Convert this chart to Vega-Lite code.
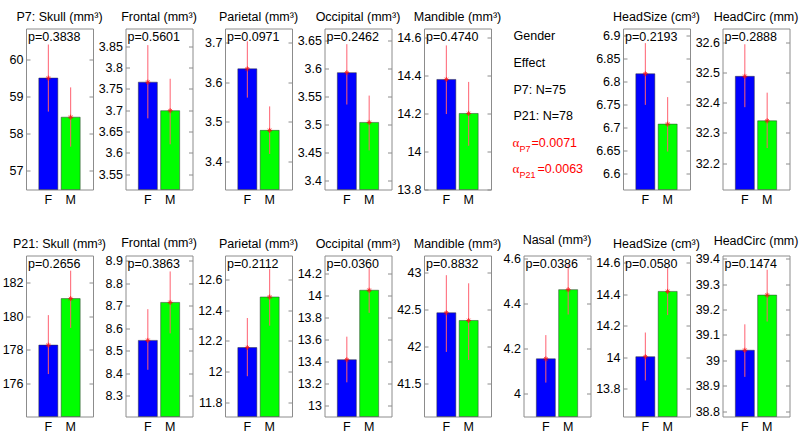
{
"$schema": "https://vega.github.io/schema/vega-lite/v6.json",
"background": "white",
"padding": {"left": 1, "top": 9.5, "right": 0, "bottom": 0},
"config": {
  "font": "Liberation Sans",
  "view": {"stroke": "#8c8c8c", "strokeWidth": 1},
  "scale": {"bandPaddingInner": 0.15, "bandPaddingOuter": 0.575},
  "title": {"fontSize": 12.5, "fontWeight": "normal", "offset": 5.5, "color": "black", "anchor": "middle"},
  "axisY": {"domain": false, "grid": false, "tickSize": -4, "tickColor": "#8c8c8c", "labelPadding": 7, "labelFontSize": 12.5, "labelColor": "black", "format": "~g"},
  "axisX": {"domain": false, "ticks": false, "labelPadding": 4, "labelFontSize": 12.5, "labelColor": "black", "labelAngle": 0},
  "text": {"fontSize": 12.5}
},
"datasets": {
  "bars": [
    {"panel": "a1", "g": "F", "mean": 59.49, "lo": 58.59, "hi": 60.39, "p": "p=0.3838"},
    {"panel": "a1", "g": "M", "mean": 58.44, "lo": 57.65, "hi": 59.24, "p": "p=0.3838"},
    {"panel": "a2", "g": "F", "mean": 3.766, "lo": 3.681, "hi": 3.853, "p": "p=0.5601"},
    {"panel": "a2", "g": "M", "mean": 3.699, "lo": 3.62, "hi": 3.774, "p": "p=0.5601"},
    {"panel": "a3", "g": "F", "mean": 3.633, "lo": 3.561, "hi": 3.702, "p": "p=0.0971"},
    {"panel": "a3", "g": "M", "mean": 3.479, "lo": 3.42, "hi": 3.539, "p": "p=0.0971"},
    {"panel": "a4", "g": "F", "mean": 3.593, "lo": 3.536, "hi": 3.644, "p": "p=0.2462"},
    {"panel": "a4", "g": "M", "mean": 3.504, "lo": 3.454, "hi": 3.552, "p": "p=0.2462"},
    {"panel": "a5", "g": "F", "mean": 14.379, "lo": 14.197, "hi": 14.558, "p": "p=0.4740"},
    {"panel": "a5", "g": "M", "mean": 14.2, "lo": 14.03, "hi": 14.366, "p": "p=0.4740"},
    {"panel": "a6", "g": "F", "mean": 6.817, "lo": 6.749, "hi": 6.884, "p": "p=0.2193"},
    {"panel": "a6", "g": "M", "mean": 6.707, "lo": 6.647, "hi": 6.766, "p": "p=0.2193"},
    {"panel": "a7", "g": "F", "mean": 32.487, "lo": 32.385, "hi": 32.593, "p": "p=0.2888"},
    {"panel": "a7", "g": "M", "mean": 32.34, "lo": 32.25, "hi": 32.433, "p": "p=0.2888"},
    {"panel": "b1", "g": "F", "mean": 178.28, "lo": 176.56, "hi": 180.06, "p": "p=0.2656"},
    {"panel": "b1", "g": "M", "mean": 181.04, "lo": 179.3, "hi": 182.7, "p": "p=0.2656"},
    {"panel": "b2", "g": "F", "mean": 8.546, "lo": 8.415, "hi": 8.685, "p": "p=0.3863"},
    {"panel": "b2", "g": "M", "mean": 8.715, "lo": 8.577, "hi": 8.853, "p": "p=0.3863"},
    {"panel": "b3", "g": "F", "mean": 12.157, "lo": 11.97, "hi": 12.35, "p": "p=0.2112"},
    {"panel": "b3", "g": "M", "mean": 12.487, "lo": 12.3, "hi": 12.67, "p": "p=0.2112"},
    {"panel": "b4", "g": "F", "mean": 13.415, "lo": 13.21, "hi": 13.624, "p": "p=0.0360"},
    {"panel": "b4", "g": "M", "mean": 14.045, "lo": 13.84, "hi": 14.25, "p": "p=0.0360"},
    {"panel": "b5", "g": "F", "mean": 42.46, "lo": 41.93, "hi": 42.97, "p": "p=0.8832"},
    {"panel": "b5", "g": "M", "mean": 42.356, "lo": 41.82, "hi": 42.86, "p": "p=0.8832"},
    {"panel": "b6", "g": "F", "mean": 4.155, "lo": 4.05, "hi": 4.26, "p": "p=0.0386"},
    {"panel": "b6", "g": "M", "mean": 4.461, "lo": 4.351, "hi": 4.571, "p": "p=0.0386"},
    {"panel": "b7", "g": "F", "mean": 14.004, "lo": 13.854, "hi": 14.157, "p": "p=0.0580"},
    {"panel": "b7", "g": "M", "mean": 14.417, "lo": 14.267, "hi": 14.567, "p": "p=0.0580"},
    {"panel": "b8", "g": "F", "mean": 39.04, "lo": 38.935, "hi": 39.142, "p": "p=0.1474"},
    {"panel": "b8", "g": "M", "mean": 39.257, "lo": 39.153, "hi": 39.357, "p": "p=0.1474"}
  ],
  "notes": [
    {"i": 0, "kind": "plain", "t": "Gender"},
    {"i": 1, "kind": "plain", "t": "Effect"},
    {"i": 2, "kind": "plain", "t": "P7: N=75"},
    {"i": 3, "kind": "plain", "t": "P21: N=78"},
    {"i": 4, "kind": "alpha", "t": "α", "sub": "P7", "val": "=0.0071"},
    {"i": 5, "kind": "alpha", "t": "α", "sub": "P21", "val": "=0.0063"}
  ]
},
"columns": 8,
"spacing": {"row": 66, "column": 32.5},
"bounds": "flush",
"concat": [
  {"title": "P7: Skull (mm³)", "width": 67, "height": 161, "data": {"name": "bars"}, "transform": [{"filter": {"field": "panel", "equal": "a1"}}],
   "layer": [
    {"mark": {"type": "bar", "stroke": "#333333", "strokeWidth": 0.5}, "encoding": {"x": {"field": "g", "type": "nominal", "title": null}, "y": {"field": "mean", "type": "quantitative", "title": null, "scale": {"domain": [56.5, 60.82], "nice": false, "zero": false}, "axis": {"values": [57, 58, 59, 60]}}, "y2": {"datum": 56.5}, "color": {"field": "g", "type": "nominal", "scale": {"domain": ["F", "M"], "range": ["#0000ff", "#00ff00"]}, "legend": null}}},
    {"mark": {"type": "rule", "color": "#ff6070"}, "encoding": {"x": {"field": "g", "type": "nominal", "title": null}, "y": {"field": "lo", "type": "quantitative", "title": null, "scale": {"domain": [56.5, 60.82], "nice": false, "zero": false}, "axis": {"orient": "right", "labels": false, "values": [57, 58, 59, 60]}}, "y2": {"field": "hi"}}},
    {"mark": {"type": "point", "shape": "M-1,0L1,0M0,-1L0,1M-0.7,-0.7L0.7,0.7M-0.7,0.7L0.7,-0.7", "size": 25, "color": "red", "filled": false, "strokeWidth": 1}, "encoding": {"x": {"field": "g", "type": "nominal", "title": null}, "y": {"field": "mean", "type": "quantitative", "axis": null}}},
    {"transform": [{"filter": "datum.g=='F'"}], "mark": {"type": "text", "align": "left", "baseline": "middle"}, "encoding": {"x": {"value": 2}, "y": {"value": 8}, "text": {"field": "p"}}}
   ], "resolve": {"axis": {"y": "independent"}}},
  {"title": "Frontal (mm³)", "width": 67, "height": 161, "data": {"name": "bars"}, "transform": [{"filter": {"field": "panel", "equal": "a2"}}],
   "layer": [
    {"mark": {"type": "bar", "stroke": "#333333", "strokeWidth": 0.5}, "encoding": {"x": {"field": "g", "type": "nominal", "title": null}, "y": {"field": "mean", "type": "quantitative", "title": null, "scale": {"domain": [3.514, 3.892], "nice": false, "zero": false}, "axis": {"values": [3.55, 3.6, 3.65, 3.7, 3.75, 3.8, 3.85]}}, "y2": {"datum": 3.514}, "color": {"field": "g", "type": "nominal", "scale": {"domain": ["F", "M"], "range": ["#0000ff", "#00ff00"]}, "legend": null}}},
    {"mark": {"type": "rule", "color": "#ff6070"}, "encoding": {"x": {"field": "g", "type": "nominal", "title": null}, "y": {"field": "lo", "type": "quantitative", "title": null, "scale": {"domain": [3.514, 3.892], "nice": false, "zero": false}, "axis": {"orient": "right", "labels": false, "values": [3.55, 3.6, 3.65, 3.7, 3.75, 3.8, 3.85]}}, "y2": {"field": "hi"}}},
    {"mark": {"type": "point", "shape": "M-1,0L1,0M0,-1L0,1M-0.7,-0.7L0.7,0.7M-0.7,0.7L0.7,-0.7", "size": 25, "color": "red", "filled": false, "strokeWidth": 1}, "encoding": {"x": {"field": "g", "type": "nominal", "title": null}, "y": {"field": "mean", "type": "quantitative", "axis": null}}},
    {"transform": [{"filter": "datum.g=='F'"}], "mark": {"type": "text", "align": "left", "baseline": "middle"}, "encoding": {"x": {"value": 2}, "y": {"value": 8}, "text": {"field": "p"}}}
   ], "resolve": {"axis": {"y": "independent"}}},
  {"title": "Parietal (mm³)", "width": 67, "height": 161, "data": {"name": "bars"}, "transform": [{"filter": {"field": "panel", "equal": "a3"}}],
   "layer": [
    {"mark": {"type": "bar", "stroke": "#333333", "strokeWidth": 0.5}, "encoding": {"x": {"field": "g", "type": "nominal", "title": null}, "y": {"field": "mean", "type": "quantitative", "title": null, "scale": {"domain": [3.331, 3.734], "nice": false, "zero": false}, "axis": {"values": [3.4, 3.5, 3.6, 3.7]}}, "y2": {"datum": 3.331}, "color": {"field": "g", "type": "nominal", "scale": {"domain": ["F", "M"], "range": ["#0000ff", "#00ff00"]}, "legend": null}}},
    {"mark": {"type": "rule", "color": "#ff6070"}, "encoding": {"x": {"field": "g", "type": "nominal", "title": null}, "y": {"field": "lo", "type": "quantitative", "title": null, "scale": {"domain": [3.331, 3.734], "nice": false, "zero": false}, "axis": {"orient": "right", "labels": false, "values": [3.4, 3.5, 3.6, 3.7]}}, "y2": {"field": "hi"}}},
    {"mark": {"type": "point", "shape": "M-1,0L1,0M0,-1L0,1M-0.7,-0.7L0.7,0.7M-0.7,0.7L0.7,-0.7", "size": 25, "color": "red", "filled": false, "strokeWidth": 1}, "encoding": {"x": {"field": "g", "type": "nominal", "title": null}, "y": {"field": "mean", "type": "quantitative", "axis": null}}},
    {"transform": [{"filter": "datum.g=='F'"}], "mark": {"type": "text", "align": "left", "baseline": "middle"}, "encoding": {"x": {"value": 2}, "y": {"value": 8}, "text": {"field": "p"}}}
   ], "resolve": {"axis": {"y": "independent"}}},
  {"title": "Occipital (mm³)", "width": 67, "height": 161, "data": {"name": "bars"}, "transform": [{"filter": {"field": "panel", "equal": "a4"}}],
   "layer": [
    {"mark": {"type": "bar", "stroke": "#333333", "strokeWidth": 0.5}, "encoding": {"x": {"field": "g", "type": "nominal", "title": null}, "y": {"field": "mean", "type": "quantitative", "title": null, "scale": {"domain": [3.384, 3.672], "nice": false, "zero": false}, "axis": {"values": [3.4, 3.45, 3.5, 3.55, 3.6, 3.65]}}, "y2": {"datum": 3.384}, "color": {"field": "g", "type": "nominal", "scale": {"domain": ["F", "M"], "range": ["#0000ff", "#00ff00"]}, "legend": null}}},
    {"mark": {"type": "rule", "color": "#ff6070"}, "encoding": {"x": {"field": "g", "type": "nominal", "title": null}, "y": {"field": "lo", "type": "quantitative", "title": null, "scale": {"domain": [3.384, 3.672], "nice": false, "zero": false}, "axis": {"orient": "right", "labels": false, "values": [3.4, 3.45, 3.5, 3.55, 3.6, 3.65]}}, "y2": {"field": "hi"}}},
    {"mark": {"type": "point", "shape": "M-1,0L1,0M0,-1L0,1M-0.7,-0.7L0.7,0.7M-0.7,0.7L0.7,-0.7", "size": 25, "color": "red", "filled": false, "strokeWidth": 1}, "encoding": {"x": {"field": "g", "type": "nominal", "title": null}, "y": {"field": "mean", "type": "quantitative", "axis": null}}},
    {"transform": [{"filter": "datum.g=='F'"}], "mark": {"type": "text", "align": "left", "baseline": "middle"}, "encoding": {"x": {"value": 2}, "y": {"value": 8}, "text": {"field": "p"}}}
   ], "resolve": {"axis": {"y": "independent"}}},
  {"title": "Mandible (mm³)", "width": 67, "height": 161, "data": {"name": "bars"}, "transform": [{"filter": {"field": "panel", "equal": "a5"}}],
   "layer": [
    {"mark": {"type": "bar", "stroke": "#333333", "strokeWidth": 0.5}, "encoding": {"x": {"field": "g", "type": "nominal", "title": null}, "y": {"field": "mean", "type": "quantitative", "title": null, "scale": {"domain": [13.8, 14.647], "nice": false, "zero": false}, "axis": {"values": [13.8, 14, 14.2, 14.4, 14.6]}}, "y2": {"datum": 13.8}, "color": {"field": "g", "type": "nominal", "scale": {"domain": ["F", "M"], "range": ["#0000ff", "#00ff00"]}, "legend": null}}},
    {"mark": {"type": "rule", "color": "#ff6070"}, "encoding": {"x": {"field": "g", "type": "nominal", "title": null}, "y": {"field": "lo", "type": "quantitative", "title": null, "scale": {"domain": [13.8, 14.647], "nice": false, "zero": false}, "axis": {"orient": "right", "labels": false, "values": [13.8, 14, 14.2, 14.4, 14.6]}}, "y2": {"field": "hi"}}},
    {"mark": {"type": "point", "shape": "M-1,0L1,0M0,-1L0,1M-0.7,-0.7L0.7,0.7M-0.7,0.7L0.7,-0.7", "size": 25, "color": "red", "filled": false, "strokeWidth": 1}, "encoding": {"x": {"field": "g", "type": "nominal", "title": null}, "y": {"field": "mean", "type": "quantitative", "axis": null}}},
    {"transform": [{"filter": "datum.g=='F'"}], "mark": {"type": "text", "align": "left", "baseline": "middle"}, "encoding": {"x": {"value": 2}, "y": {"value": 8}, "text": {"field": "p"}}}
   ], "resolve": {"axis": {"y": "independent"}}},
  {"width": 67, "height": 161, "view": {"stroke": null}, "data": {"name": "notes"},
   "layer": [
    {"transform": [{"filter": "datum.kind=='plain'"}], "mark": {"type": "text", "align": "left", "baseline": "middle", "dx": -10, "color": "black"}, "encoding": {"x": {"value": 0}, "y": {"field": "i", "type": "quantitative", "scale": {"domain": [-0.3014, 5.765], "reverse": true, "nice": false, "zero": false}, "axis": null}, "text": {"field": "t"}}},
    {"transform": [{"filter": "datum.kind=='alpha'"}], "mark": {"type": "text", "align": "left", "baseline": "middle", "dx": -11, "color": "red", "font": "Liberation Serif", "fontSize": 13}, "encoding": {"x": {"value": 0}, "y": {"field": "i", "type": "quantitative", "axis": null}, "text": {"field": "t"}}},
    {"transform": [{"filter": "datum.kind=='alpha'"}], "mark": {"type": "text", "align": "left", "baseline": "middle", "dx": -4, "dy": 6, "color": "red", "fontSize": 9}, "encoding": {"x": {"value": 0}, "y": {"field": "i", "type": "quantitative", "axis": null}, "text": {"field": "sub"}}},
    {"transform": [{"filter": "datum.i==4"}], "mark": {"type": "text", "align": "left", "baseline": "middle", "dx": 8, "color": "red"}, "encoding": {"x": {"value": 0}, "y": {"field": "i", "type": "quantitative", "axis": null}, "text": {"field": "val"}}},
    {"transform": [{"filter": "datum.i==5"}], "mark": {"type": "text", "align": "left", "baseline": "middle", "dx": 14, "color": "red"}, "encoding": {"x": {"value": 0}, "y": {"field": "i", "type": "quantitative", "axis": null}, "text": {"field": "val"}}}
   ]},
  {"title": "HeadSize (cm³)", "width": 67, "height": 161, "data": {"name": "bars"}, "transform": [{"filter": {"field": "panel", "equal": "a6"}}],
   "layer": [
    {"mark": {"type": "bar", "stroke": "#333333", "strokeWidth": 0.5}, "encoding": {"x": {"field": "g", "type": "nominal", "title": null}, "y": {"field": "mean", "type": "quantitative", "title": null, "scale": {"domain": [6.564, 6.916], "nice": false, "zero": false}, "axis": {"values": [6.6, 6.65, 6.7, 6.75, 6.8, 6.85, 6.9]}}, "y2": {"datum": 6.564}, "color": {"field": "g", "type": "nominal", "scale": {"domain": ["F", "M"], "range": ["#0000ff", "#00ff00"]}, "legend": null}}},
    {"mark": {"type": "rule", "color": "#ff6070"}, "encoding": {"x": {"field": "g", "type": "nominal", "title": null}, "y": {"field": "lo", "type": "quantitative", "title": null, "scale": {"domain": [6.564, 6.916], "nice": false, "zero": false}, "axis": {"orient": "right", "labels": false, "values": [6.6, 6.65, 6.7, 6.75, 6.8, 6.85, 6.9]}}, "y2": {"field": "hi"}}},
    {"mark": {"type": "point", "shape": "M-1,0L1,0M0,-1L0,1M-0.7,-0.7L0.7,0.7M-0.7,0.7L0.7,-0.7", "size": 25, "color": "red", "filled": false, "strokeWidth": 1}, "encoding": {"x": {"field": "g", "type": "nominal", "title": null}, "y": {"field": "mean", "type": "quantitative", "axis": null}}},
    {"transform": [{"filter": "datum.g=='F'"}], "mark": {"type": "text", "align": "left", "baseline": "middle"}, "encoding": {"x": {"value": 2}, "y": {"value": 8}, "text": {"field": "p"}}}
   ], "resolve": {"axis": {"y": "independent"}}},
  {"title": "HeadCirc (mm)", "width": 67, "height": 161, "data": {"name": "bars"}, "transform": [{"filter": {"field": "panel", "equal": "a7"}}],
   "layer": [
    {"mark": {"type": "bar", "stroke": "#333333", "strokeWidth": 0.5}, "encoding": {"x": {"field": "g", "type": "nominal", "title": null}, "y": {"field": "mean", "type": "quantitative", "title": null, "scale": {"domain": [32.113, 32.645], "nice": false, "zero": false}, "axis": {"values": [32.2, 32.3, 32.4, 32.5, 32.6]}}, "y2": {"datum": 32.113}, "color": {"field": "g", "type": "nominal", "scale": {"domain": ["F", "M"], "range": ["#0000ff", "#00ff00"]}, "legend": null}}},
    {"mark": {"type": "rule", "color": "#ff6070"}, "encoding": {"x": {"field": "g", "type": "nominal", "title": null}, "y": {"field": "lo", "type": "quantitative", "title": null, "scale": {"domain": [32.113, 32.645], "nice": false, "zero": false}, "axis": {"orient": "right", "labels": false, "values": [32.2, 32.3, 32.4, 32.5, 32.6]}}, "y2": {"field": "hi"}}},
    {"mark": {"type": "point", "shape": "M-1,0L1,0M0,-1L0,1M-0.7,-0.7L0.7,0.7M-0.7,0.7L0.7,-0.7", "size": 25, "color": "red", "filled": false, "strokeWidth": 1}, "encoding": {"x": {"field": "g", "type": "nominal", "title": null}, "y": {"field": "mean", "type": "quantitative", "axis": null}}},
    {"transform": [{"filter": "datum.g=='F'"}], "mark": {"type": "text", "align": "left", "baseline": "middle"}, "encoding": {"x": {"value": 2}, "y": {"value": 8}, "text": {"field": "p"}}}
   ], "resolve": {"axis": {"y": "independent"}}},
  {"title": "P21: Skull (mm³)", "width": 67, "height": 161, "data": {"name": "bars"}, "transform": [{"filter": {"field": "panel", "equal": "b1"}}],
   "layer": [
    {"mark": {"type": "bar", "stroke": "#333333", "strokeWidth": 0.5}, "encoding": {"x": {"field": "g", "type": "nominal", "title": null}, "y": {"field": "mean", "type": "quantitative", "title": null, "scale": {"domain": [174.04, 183.6], "nice": false, "zero": false}, "axis": {"values": [176, 178, 180, 182]}}, "y2": {"datum": 174.04}, "color": {"field": "g", "type": "nominal", "scale": {"domain": ["F", "M"], "range": ["#0000ff", "#00ff00"]}, "legend": null}}},
    {"mark": {"type": "rule", "color": "#ff6070"}, "encoding": {"x": {"field": "g", "type": "nominal", "title": null}, "y": {"field": "lo", "type": "quantitative", "title": null, "scale": {"domain": [174.04, 183.6], "nice": false, "zero": false}, "axis": {"orient": "right", "labels": false, "values": [176, 178, 180, 182]}}, "y2": {"field": "hi"}}},
    {"mark": {"type": "point", "shape": "M-1,0L1,0M0,-1L0,1M-0.7,-0.7L0.7,0.7M-0.7,0.7L0.7,-0.7", "size": 25, "color": "red", "filled": false, "strokeWidth": 1}, "encoding": {"x": {"field": "g", "type": "nominal", "title": null}, "y": {"field": "mean", "type": "quantitative", "axis": null}}},
    {"transform": [{"filter": "datum.g=='F'"}], "mark": {"type": "text", "align": "left", "baseline": "middle"}, "encoding": {"x": {"value": 2}, "y": {"value": 8}, "text": {"field": "p"}}}
   ], "resolve": {"axis": {"y": "independent"}}},
  {"title": "Frontal (mm³)", "width": 67, "height": 161, "data": {"name": "bars"}, "transform": [{"filter": {"field": "panel", "equal": "b2"}}],
   "layer": [
    {"mark": {"type": "bar", "stroke": "#333333", "strokeWidth": 0.5}, "encoding": {"x": {"field": "g", "type": "nominal", "title": null}, "y": {"field": "mean", "type": "quantitative", "title": null, "scale": {"domain": [8.207, 8.924], "nice": false, "zero": false}, "axis": {"values": [8.3, 8.4, 8.5, 8.6, 8.7, 8.8, 8.9]}}, "y2": {"datum": 8.207}, "color": {"field": "g", "type": "nominal", "scale": {"domain": ["F", "M"], "range": ["#0000ff", "#00ff00"]}, "legend": null}}},
    {"mark": {"type": "rule", "color": "#ff6070"}, "encoding": {"x": {"field": "g", "type": "nominal", "title": null}, "y": {"field": "lo", "type": "quantitative", "title": null, "scale": {"domain": [8.207, 8.924], "nice": false, "zero": false}, "axis": {"orient": "right", "labels": false, "values": [8.3, 8.4, 8.5, 8.6, 8.7, 8.8, 8.9]}}, "y2": {"field": "hi"}}},
    {"mark": {"type": "point", "shape": "M-1,0L1,0M0,-1L0,1M-0.7,-0.7L0.7,0.7M-0.7,0.7L0.7,-0.7", "size": 25, "color": "red", "filled": false, "strokeWidth": 1}, "encoding": {"x": {"field": "g", "type": "nominal", "title": null}, "y": {"field": "mean", "type": "quantitative", "axis": null}}},
    {"transform": [{"filter": "datum.g=='F'"}], "mark": {"type": "text", "align": "left", "baseline": "middle"}, "encoding": {"x": {"value": 2}, "y": {"value": 8}, "text": {"field": "p"}}}
   ], "resolve": {"axis": {"y": "independent"}}},
  {"title": "Parietal (mm³)", "width": 67, "height": 161, "data": {"name": "bars"}, "transform": [{"filter": {"field": "panel", "equal": "b3"}}],
   "layer": [
    {"mark": {"type": "bar", "stroke": "#333333", "strokeWidth": 0.5}, "encoding": {"x": {"field": "g", "type": "nominal", "title": null}, "y": {"field": "mean", "type": "quantitative", "title": null, "scale": {"domain": [11.707, 12.758], "nice": false, "zero": false}, "axis": {"values": [11.8, 12, 12.2, 12.4, 12.6]}}, "y2": {"datum": 11.707}, "color": {"field": "g", "type": "nominal", "scale": {"domain": ["F", "M"], "range": ["#0000ff", "#00ff00"]}, "legend": null}}},
    {"mark": {"type": "rule", "color": "#ff6070"}, "encoding": {"x": {"field": "g", "type": "nominal", "title": null}, "y": {"field": "lo", "type": "quantitative", "title": null, "scale": {"domain": [11.707, 12.758], "nice": false, "zero": false}, "axis": {"orient": "right", "labels": false, "values": [11.8, 12, 12.2, 12.4, 12.6]}}, "y2": {"field": "hi"}}},
    {"mark": {"type": "point", "shape": "M-1,0L1,0M0,-1L0,1M-0.7,-0.7L0.7,0.7M-0.7,0.7L0.7,-0.7", "size": 25, "color": "red", "filled": false, "strokeWidth": 1}, "encoding": {"x": {"field": "g", "type": "nominal", "title": null}, "y": {"field": "mean", "type": "quantitative", "axis": null}}},
    {"transform": [{"filter": "datum.g=='F'"}], "mark": {"type": "text", "align": "left", "baseline": "middle"}, "encoding": {"x": {"value": 2}, "y": {"value": 8}, "text": {"field": "p"}}}
   ], "resolve": {"axis": {"y": "independent"}}},
  {"title": "Occipital (mm³)", "width": 67, "height": 161, "data": {"name": "bars"}, "transform": [{"filter": {"field": "panel", "equal": "b4"}}],
   "layer": [
    {"mark": {"type": "bar", "stroke": "#333333", "strokeWidth": 0.5}, "encoding": {"x": {"field": "g", "type": "nominal", "title": null}, "y": {"field": "mean", "type": "quantitative", "title": null, "scale": {"domain": [12.9, 14.36], "nice": false, "zero": false}, "axis": {"values": [13, 13.2, 13.4, 13.6, 13.8, 14, 14.2]}}, "y2": {"datum": 12.9}, "color": {"field": "g", "type": "nominal", "scale": {"domain": ["F", "M"], "range": ["#0000ff", "#00ff00"]}, "legend": null}}},
    {"mark": {"type": "rule", "color": "#ff6070"}, "encoding": {"x": {"field": "g", "type": "nominal", "title": null}, "y": {"field": "lo", "type": "quantitative", "title": null, "scale": {"domain": [12.9, 14.36], "nice": false, "zero": false}, "axis": {"orient": "right", "labels": false, "values": [13, 13.2, 13.4, 13.6, 13.8, 14, 14.2]}}, "y2": {"field": "hi"}}},
    {"mark": {"type": "point", "shape": "M-1,0L1,0M0,-1L0,1M-0.7,-0.7L0.7,0.7M-0.7,0.7L0.7,-0.7", "size": 25, "color": "red", "filled": false, "strokeWidth": 1}, "encoding": {"x": {"field": "g", "type": "nominal", "title": null}, "y": {"field": "mean", "type": "quantitative", "axis": null}}},
    {"transform": [{"filter": "datum.g=='F'"}], "mark": {"type": "text", "align": "left", "baseline": "middle"}, "encoding": {"x": {"value": 2}, "y": {"value": 8}, "text": {"field": "p"}}}
   ], "resolve": {"axis": {"y": "independent"}}},
  {"title": "Mandible (mm³)", "width": 67, "height": 161, "data": {"name": "bars"}, "transform": [{"filter": {"field": "panel", "equal": "b5"}}],
   "layer": [
    {"mark": {"type": "bar", "stroke": "#333333", "strokeWidth": 0.5}, "encoding": {"x": {"field": "g", "type": "nominal", "title": null}, "y": {"field": "mean", "type": "quantitative", "title": null, "scale": {"domain": [41.054, 43.237], "nice": false, "zero": false}, "axis": {"values": [41.5, 42, 42.5, 43]}}, "y2": {"datum": 41.054}, "color": {"field": "g", "type": "nominal", "scale": {"domain": ["F", "M"], "range": ["#0000ff", "#00ff00"]}, "legend": null}}},
    {"mark": {"type": "rule", "color": "#ff6070"}, "encoding": {"x": {"field": "g", "type": "nominal", "title": null}, "y": {"field": "lo", "type": "quantitative", "title": null, "scale": {"domain": [41.054, 43.237], "nice": false, "zero": false}, "axis": {"orient": "right", "labels": false, "values": [41.5, 42, 42.5, 43]}}, "y2": {"field": "hi"}}},
    {"mark": {"type": "point", "shape": "M-1,0L1,0M0,-1L0,1M-0.7,-0.7L0.7,0.7M-0.7,0.7L0.7,-0.7", "size": 25, "color": "red", "filled": false, "strokeWidth": 1}, "encoding": {"x": {"field": "g", "type": "nominal", "title": null}, "y": {"field": "mean", "type": "quantitative", "axis": null}}},
    {"transform": [{"filter": "datum.g=='F'"}], "mark": {"type": "text", "align": "left", "baseline": "middle"}, "encoding": {"x": {"value": 2}, "y": {"value": 8}, "text": {"field": "p"}}}
   ], "resolve": {"axis": {"y": "independent"}}},
  {"title": "Nasal (mm³)", "width": 67, "height": 161, "data": {"name": "bars"}, "transform": [{"filter": {"field": "panel", "equal": "b6"}}],
   "layer": [
    {"mark": {"type": "bar", "stroke": "#333333", "strokeWidth": 0.5}, "encoding": {"x": {"field": "g", "type": "nominal", "title": null}, "y": {"field": "mean", "type": "quantitative", "title": null, "scale": {"domain": [3.9, 4.612], "nice": false, "zero": false}, "axis": {"values": [4, 4.2, 4.4, 4.6]}}, "y2": {"datum": 3.9}, "color": {"field": "g", "type": "nominal", "scale": {"domain": ["F", "M"], "range": ["#0000ff", "#00ff00"]}, "legend": null}}},
    {"mark": {"type": "rule", "color": "#ff6070"}, "encoding": {"x": {"field": "g", "type": "nominal", "title": null}, "y": {"field": "lo", "type": "quantitative", "title": null, "scale": {"domain": [3.9, 4.612], "nice": false, "zero": false}, "axis": {"orient": "right", "labels": false, "values": [4, 4.2, 4.4, 4.6]}}, "y2": {"field": "hi"}}},
    {"mark": {"type": "point", "shape": "M-1,0L1,0M0,-1L0,1M-0.7,-0.7L0.7,0.7M-0.7,0.7L0.7,-0.7", "size": 25, "color": "red", "filled": false, "strokeWidth": 1}, "encoding": {"x": {"field": "g", "type": "nominal", "title": null}, "y": {"field": "mean", "type": "quantitative", "axis": null}}},
    {"transform": [{"filter": "datum.g=='F'"}], "mark": {"type": "text", "align": "left", "baseline": "middle"}, "encoding": {"x": {"value": 2}, "y": {"value": 8}, "text": {"field": "p"}}}
   ], "resolve": {"axis": {"y": "independent"}}},
  {"title": "HeadSize (cm³)", "width": 67, "height": 161, "data": {"name": "bars"}, "transform": [{"filter": {"field": "panel", "equal": "b7"}}],
   "layer": [
    {"mark": {"type": "bar", "stroke": "#333333", "strokeWidth": 0.5}, "encoding": {"x": {"field": "g", "type": "nominal", "title": null}, "y": {"field": "mean", "type": "quantitative", "title": null, "scale": {"domain": [13.626, 14.644], "nice": false, "zero": false}, "axis": {"values": [13.8, 14, 14.2, 14.4, 14.6]}}, "y2": {"datum": 13.626}, "color": {"field": "g", "type": "nominal", "scale": {"domain": ["F", "M"], "range": ["#0000ff", "#00ff00"]}, "legend": null}}},
    {"mark": {"type": "rule", "color": "#ff6070"}, "encoding": {"x": {"field": "g", "type": "nominal", "title": null}, "y": {"field": "lo", "type": "quantitative", "title": null, "scale": {"domain": [13.626, 14.644], "nice": false, "zero": false}, "axis": {"orient": "right", "labels": false, "values": [13.8, 14, 14.2, 14.4, 14.6]}}, "y2": {"field": "hi"}}},
    {"mark": {"type": "point", "shape": "M-1,0L1,0M0,-1L0,1M-0.7,-0.7L0.7,0.7M-0.7,0.7L0.7,-0.7", "size": 25, "color": "red", "filled": false, "strokeWidth": 1}, "encoding": {"x": {"field": "g", "type": "nominal", "title": null}, "y": {"field": "mean", "type": "quantitative", "axis": null}}},
    {"transform": [{"filter": "datum.g=='F'"}], "mark": {"type": "text", "align": "left", "baseline": "middle"}, "encoding": {"x": {"value": 2}, "y": {"value": 8}, "text": {"field": "p"}}}
   ], "resolve": {"axis": {"y": "independent"}}},
  {"title": "HeadCirc (mm)", "width": 67, "height": 161, "data": {"name": "bars"}, "transform": [{"filter": {"field": "panel", "equal": "b8"}}],
   "layer": [
    {"mark": {"type": "bar", "stroke": "#333333", "strokeWidth": 0.5}, "encoding": {"x": {"field": "g", "type": "nominal", "title": null}, "y": {"field": "mean", "type": "quantitative", "title": null, "scale": {"domain": [38.779, 39.413], "nice": false, "zero": false}, "axis": {"values": [38.8, 38.9, 39, 39.1, 39.2, 39.3, 39.4]}}, "y2": {"datum": 38.779}, "color": {"field": "g", "type": "nominal", "scale": {"domain": ["F", "M"], "range": ["#0000ff", "#00ff00"]}, "legend": null}}},
    {"mark": {"type": "rule", "color": "#ff6070"}, "encoding": {"x": {"field": "g", "type": "nominal", "title": null}, "y": {"field": "lo", "type": "quantitative", "title": null, "scale": {"domain": [38.779, 39.413], "nice": false, "zero": false}, "axis": {"orient": "right", "labels": false, "values": [38.8, 38.9, 39, 39.1, 39.2, 39.3, 39.4]}}, "y2": {"field": "hi"}}},
    {"mark": {"type": "point", "shape": "M-1,0L1,0M0,-1L0,1M-0.7,-0.7L0.7,0.7M-0.7,0.7L0.7,-0.7", "size": 25, "color": "red", "filled": false, "strokeWidth": 1}, "encoding": {"x": {"field": "g", "type": "nominal", "title": null}, "y": {"field": "mean", "type": "quantitative", "axis": null}}},
    {"transform": [{"filter": "datum.g=='F'"}], "mark": {"type": "text", "align": "left", "baseline": "middle"}, "encoding": {"x": {"value": 2}, "y": {"value": 8}, "text": {"field": "p"}}}
   ], "resolve": {"axis": {"y": "independent"}}}
]
}
